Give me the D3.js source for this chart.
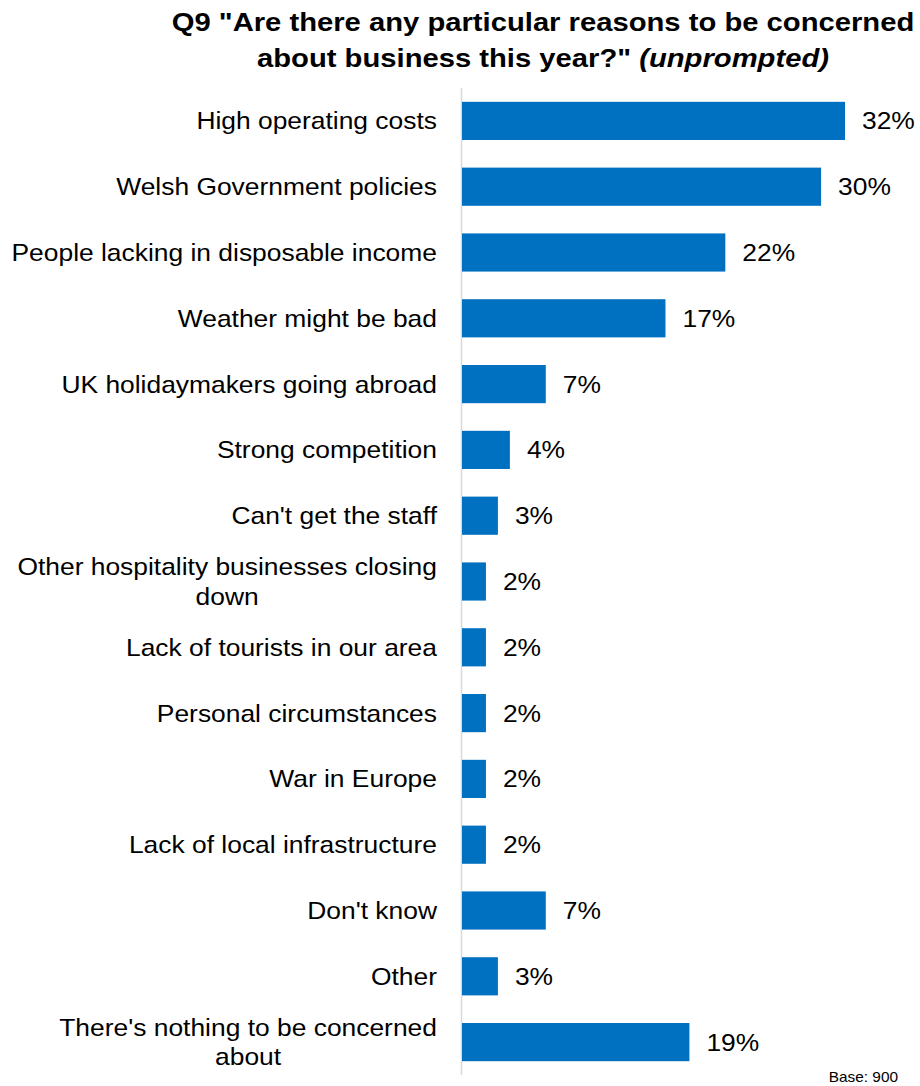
<!DOCTYPE html>
<html><head><meta charset="utf-8">
<script src="https://cdn.jsdelivr.net/npm/d3@7"></script>
<style>body{margin:0;background:#fff}svg{display:block}text{font-family:"Liberation Sans",Arial,sans-serif}</style>
</head><body>
<svg id="c" width="920" height="1086"></svg>
<script>
const categories = ["High operating costs","Welsh Government policies","People lacking in disposable income","Weather might be bad","UK holidaymakers going abroad","Strong competition","Can't get the staff","Other hospitality businesses closing down","Lack of tourists in our area","Personal circumstances","War in Europe","Lack of local infrastructure","Don't know","Other","There's nothing to be concerned about"];
const values = [32,30,22,17,7,4,3,2,2,2,2,2,7,3,19];
const titleLines = ["Q9 \"Are there any particular reasons to be concerned", "about business this year?\" "];
const titleItalic = "(unprompted)";
const baseNote = "Base: 900";

const svg = d3.select("#c");
const SX = 1.1; // horizontal stretch of text
const x0 = 462;
const x = d3.scaleLinear().domain([0,32]).range([x0,845]);
const y = d3.scaleBand().domain(categories).range([88,1075]).paddingInner(0.42).paddingOuter(0.21);

// title
const tg = svg.append("g");
const t = tg.append("text").attr("text-anchor","middle").attr("font-weight","bold").attr("font-size",25.5).attr("fill","#000");
t.append("tspan").attr("x",0).attr("y",31).text(titleLines[0]);
t.append("tspan").attr("x",0).attr("y",67).text(titleLines[1]);
t.append("tspan").attr("font-style","italic").text(titleItalic);
const tw = t.select("tspan").node().getComputedTextLength();
tg.attr("transform",`translate(543,0) scale(${743/tw},1)`);

// axis line
svg.append("line").attr("x1",x0-0.5).attr("x2",x0-0.5).attr("y1",88).attr("y2",1075).attr("stroke","#d9d9d9").attr("stroke-width",1.5);

// bars
svg.selectAll("rect.bar").data(categories).join("rect").attr("class","bar")
 .attr("x",x0).attr("y",d=>y(d)).attr("height",y.bandwidth())
 .attr("width",(d,i)=>x(values[i])-x0).attr("fill","#0070c0");

// values
svg.selectAll("g.val").data(categories).join("g").attr("class","val")
 .attr("transform",(d,i)=>`translate(${x(values[i])+17},${y(d)+y.bandwidth()/2}) scale(${SX},1)`)
 .append("text").attr("dy","0.35em")
 .attr("font-size",24).attr("fill","#000").text((d,i)=>values[i]+"%");

// labels with wrapping
const maxW = 400, lh = 30;
categories.forEach(c=>{
  const cy = y(c)+y.bandwidth()/2;
  const g = svg.append("g").attr("transform",`translate(437,${cy}) scale(${SX},1)`);
  const txt = g.append("text").attr("font-size",24).attr("fill","#000").attr("text-anchor","middle");
  const words = c.split(" ");
  const lines = []; let cur = [];
  const probe = svg.append("text").attr("font-size",24);
  words.forEach(w=>{
    const test = cur.concat([w]).join(" ");
    probe.text(test);
    if (probe.node().getComputedTextLength() > maxW && cur.length){ lines.push(cur.join(" ")); cur=[w]; }
    else cur.push(w);
  });
  lines.push(cur.join(" "));
  let wmax = 0;
  lines.forEach(l=>{probe.text(l); wmax=Math.max(wmax, probe.node().getComputedTextLength());});
  probe.remove();
  lines.forEach((l,i)=>{
    txt.append("tspan").attr("x",-wmax/2).attr("y",(i-(lines.length-1)/2)*lh).attr("dy","0.35em").text(l);
  });
});

svg.append("g").attr("transform",`translate(898,1082) scale(${SX},1)`)
 .append("text").attr("text-anchor","end").attr("font-size",14).attr("fill","#000").text(baseNote);
</script>
</body></html>
